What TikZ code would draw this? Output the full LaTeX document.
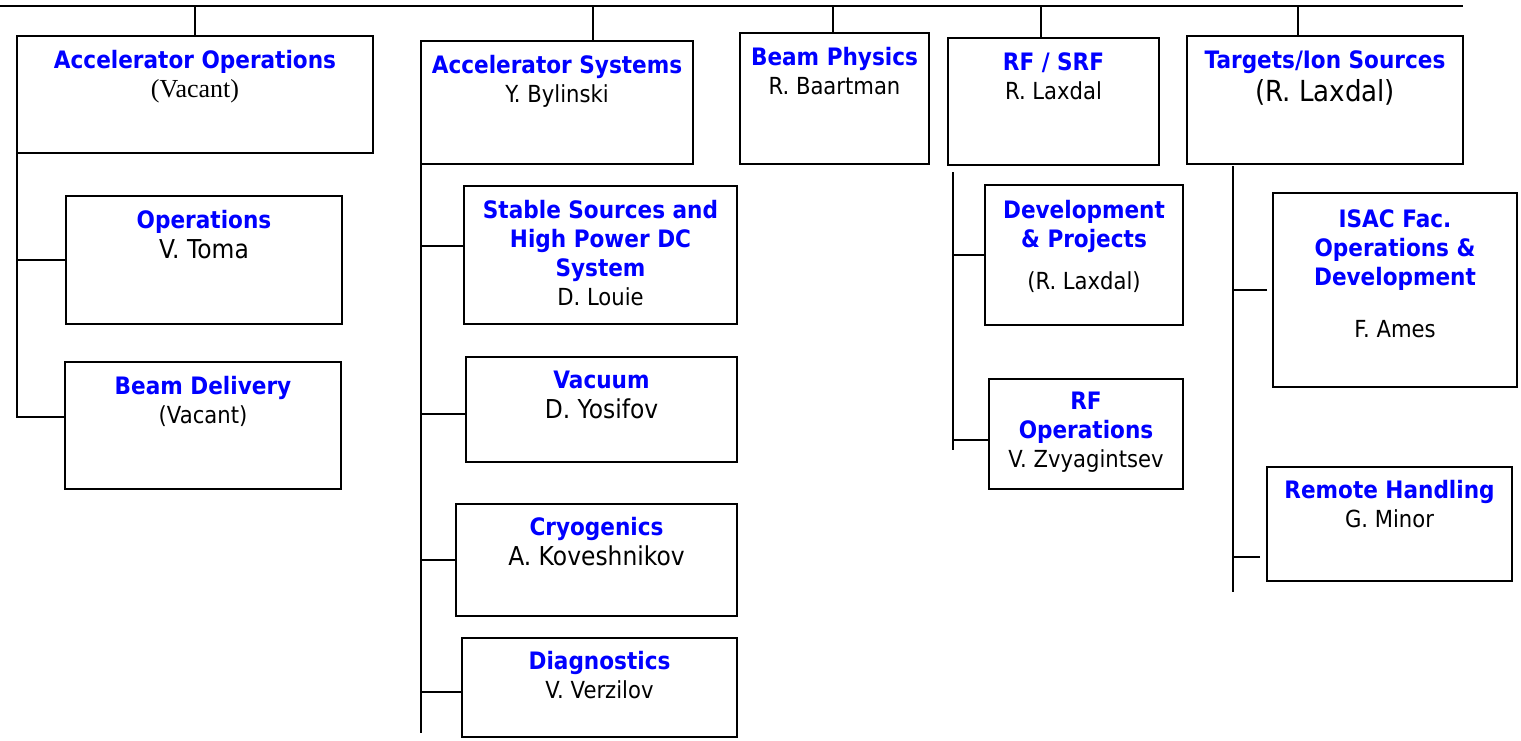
\documentclass[tikz,border=0pt]{standalone}
\usepackage{fontspec}
\setmainfont{DejaVu Sans}[FakeStretch=0.9]
\newfontfamily\vacantfont{Liberation Serif}
\usetikzlibrary{positioning}
\definecolor{unitblue}{RGB}{0,0,255}
\newcommand{\unithead}{\color{unitblue}\bfseries\fontsize{24}{29}\selectfont}
\newcommand{\bigname}{\fontsize{26}{29}\selectfont}

\tikzset{
  unit/.style={draw, line width=2pt, inner sep=0pt, outer sep=0pt, anchor=north west},
  unittext/.style={inner sep=0pt, anchor=north, align=center, font=\fontsize{23.5}{29}\selectfont},
  link/.style={line width=2pt}
}

\begin{document}
\begin{tikzpicture}[x=1pt, y=-1pt]
\useasboundingbox (0,0) rectangle (1521,740);

% top bar and the drops to the groups
\coordinate (barL) at (0,6);
\coordinate (barR) at (1463,6);
\draw[link] (barL) -- (barR);

% group boxes
\node[unit, minimum width=356pt, minimum height=117pt] (acops) at (17,36) {};
\node[unit, minimum width=272pt, minimum height=123pt] (acsys) at (421,41) {};
\node[unit, minimum width=189pt, minimum height=131pt] (bphys) at (740,33) {};
\node[unit, minimum width=211pt, minimum height=127pt] (rfsrf) at (948,38) {};
\node[unit, minimum width=276pt, minimum height=128pt] (targ) at (1187,36) {};

\coordinate (d1) at (195,6);
\coordinate (d2) at (593,6);
\coordinate (d3) at (833,6);
\coordinate (d4) at (1041,6);
\coordinate (d5) at (1298,6);
\draw[link] (d1) -- (d1 |- acops.north);
\draw[link] (d2) -- (d2 |- acsys.north);
\draw[link] (d3) -- (d3 |- bphys.north);
\draw[link] (d4) -- (d4 |- rfsrf.north);
\draw[link] (d5) -- (d5 |- targ.north);

\node[unittext, below=14pt of acops.north] (acopsT) {\unithead Accelerator Operations\\ \vacantfont\fontsize{26}{29}\selectfont (Vacant)};
\node[unittext, below=14pt of acsys.north] (acsysT) {\unithead Accelerator Systems\\ Y. Bylinski};
\node[unittext, below=14pt of bphys.north] (bphysT) {\unithead Beam Physics\\ R. Baartman};
\node[unittext, below=14pt of rfsrf.north] (rfsrfT) {\unithead RF / SRF\\ R. Laxdal};
\node[unittext, below=14pt of targ.north] (targT) {\unithead Targets/Ion Sources\\[4pt] \fontsize{29}{33}\selectfont (R. Laxdal)};

% Accelerator Operations
\node[unit, minimum width=276pt, minimum height=128pt] (ops) at (66,196) {};
\node[unit, minimum width=276pt, minimum height=127pt] (bdel) at (65,362) {};
\node[unittext, below=14pt of ops.north] (opsT) {\unithead Operations\\[1pt] \bigname V. Toma};
\node[unittext, below=14pt of bdel.north] (bdelT) {\unithead Beam Delivery\\ (Vacant)};
\draw[link] (acops.south west) |- ([yshift=8.5pt]bdel.west);
\draw[link] (acops.south west |- ops.west) -- (ops.west);

% Accelerator Systems
\node[unit, minimum width=273pt, minimum height=138pt] (stab) at (464,186) {};
\node[unit, minimum width=271pt, minimum height=105pt] (vac) at (466,357) {};
\node[unit, minimum width=281pt, minimum height=112pt] (cryo) at (456,504) {};
\node[unit, minimum width=275pt, minimum height=99pt] (diag) at (462,638) {};
\node[unittext, below=14pt of stab.north] (stabT) {\unithead Stable Sources and\\ \unithead High Power DC\\ \unithead System\\ D. Louie};
\node[unittext, below=14pt of vac.north] (vacT) {\unithead Vacuum\\[1pt] \bigname D. Yosifov};
\node[unittext, below=13pt of cryo.north] (cryoT) {\unithead Cryogenics\\[1pt] \bigname A. Koveshnikov};
\node[unittext, below=13pt of diag.north] (diagT) {\unithead Diagnostics\\ V. Verzilov};
\coordinate (acsysEnd) at (421,733);
\draw[link] (acsys.south west) -- (acsysEnd);
\draw[link] ([yshift=9pt]stab.west) -- ++(-43,0);
\draw[link] ([yshift=-4.5pt]vac.west) -- ++(-45,0);
\draw[link] (cryo.west) -- (cryo.west -| acsysEnd);
\draw[link] ([yshift=-4.5pt]diag.west) -- ++(-41,0);

% RF / SRF
\node[unit, minimum width=198pt, minimum height=140pt] (dev) at (985,185) {};
\node[unit, minimum width=194pt, minimum height=110pt] (rfops) at (989,379) {};
\node[unittext, below=15pt of dev.north] (devT) {\unithead Development\\ \unithead \& Projects\\[13pt] (R. Laxdal)};
\node[unittext, below=13pt of rfops.north] (rfopsT) {\unithead RF\\ \unithead Operations\\ V. Zvyagintsev};
\coordinate (rfTop) at (953,172);
\coordinate (rfEnd) at (953,450);
\draw[link] (rfTop) -- (rfEnd);
\draw[link] (dev.west) -- (dev.west -| rfEnd);
\draw[link] ([yshift=-6pt]rfops.west) -- ++(-36,0);

% Targets/Ion Sources
\node[unit, minimum width=244pt, minimum height=194pt] (isac) at (1273,193) {};
\node[unit, minimum width=245pt, minimum height=114pt] (remote) at (1267,467) {};
\node[unittext, below=16pt of isac.north] (isacT) {\unithead ISAC Fac.\\ \unithead Operations \&\\ \unithead Development\\[23pt] F. Ames};
\node[unittext, below=13pt of remote.north] (remoteT) {\unithead Remote Handling\\ G. Minor};
\coordinate (tgTop) at (1233,166);
\coordinate (tgEnd) at (1233,592);
\draw[link] (tgTop) -- (tgEnd);
\draw[link] ([xshift=-6pt]isac.west) -- (isac.west -| tgEnd);
\draw[link] ([xshift=-7pt,yshift=-33pt]remote.west) -- ++(-27,0);
\end{tikzpicture}
\end{document}
